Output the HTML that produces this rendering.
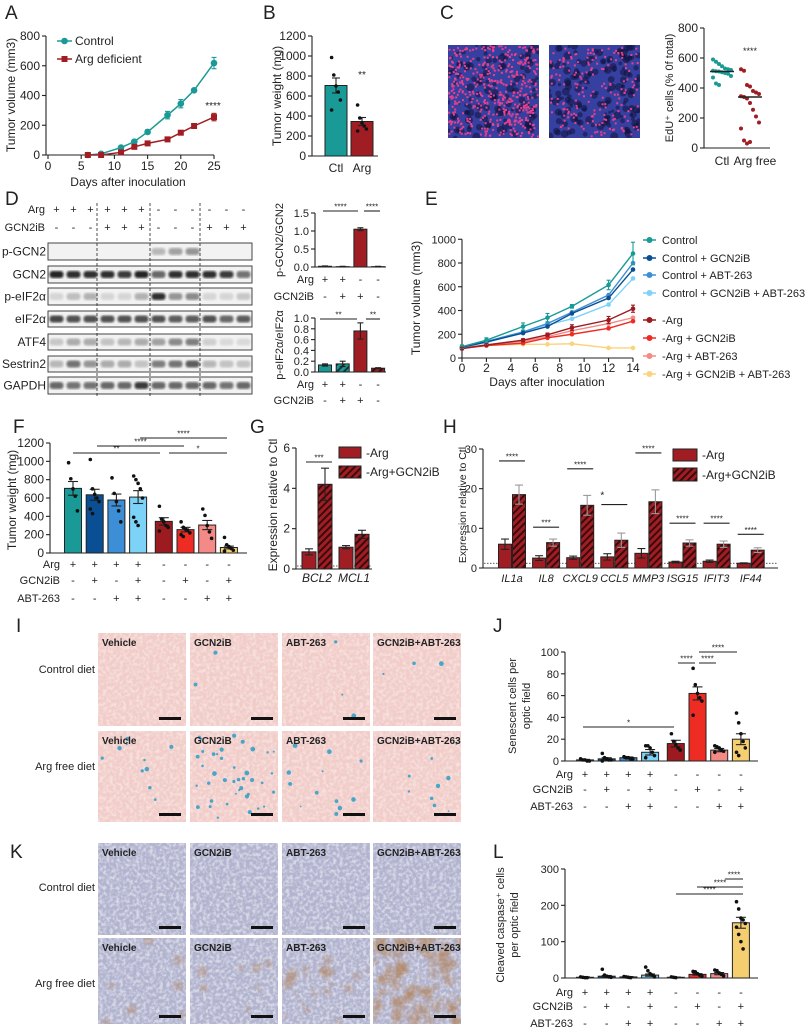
<!DOCTYPE html>
<html><head><meta charset="utf-8">
<style>
body{margin:0;background:#fff;}
svg{display:block;font-family:"Liberation Sans",sans-serif;}
</style></head>
<body>
<svg id="fig" width="810" height="1035" viewBox="0 0 810 1035">
<defs id="defs">
<pattern id="hatchRed" patternUnits="userSpaceOnUse" width="5" height="5" patternTransform="rotate(45)"><rect width="5" height="5" fill="#a01e23"/><rect width="2" height="5" fill="#3a0a0c"/></pattern>
<pattern id="hatchTeal" patternUnits="userSpaceOnUse" width="5" height="5" patternTransform="rotate(45)"><rect width="5" height="5" fill="#1a9a96"/><rect width="2" height="5" fill="#0a3a38"/></pattern>
<filter id="speck" x="0" y="0" width="100%" height="100%"><feTurbulence type="fractalNoise" baseFrequency="0.3" numOctaves="2" seed="4"/><feColorMatrix type="matrix" values="0 0 0 0 1 0 0 0 0 1 0 0 0 0 1 3 0 0 0 -1.2"/></filter>
<filter id="blur1"><feGaussianBlur stdDeviation="1"/></filter>
<filter id="blur2"><feGaussianBlur stdDeviation="2"/></filter>
</defs>
</svg>
<script>
// ---------- DATA ----------
const aDays=[6,8,11,13,15,18,20,22,25];
const aControl=[0,8,50,90,155,268,345,435,618];
const aControlErr=[2,4,5,8,14,25,28,12,38];
const aArg=[0,0,18,55,78,105,150,195,255];
const aArgErr=[2,2,5,8,6,8,10,12,25];
const aYTicks=[0,200,400,600,800];
const aXTicks=[0,5,10,15,20,25];

const bCats=['Ctl','Arg'];
const bValues=[705,345];
const bErr=[75,40];
const bDotsCtl=[985,810,700,640,560,460];
const bDotsArg=[510,380,330,300,270,250];
const bYTicks=[0,200,400,600,800,1000,1200];

const cCats=['Ctl','Arg free'];
const cCtl=[590,575,560,545,530,525,520,515,512,510,505,500,495,480,470,430,420];
const cArg=[525,515,420,410,380,370,360,345,340,330,300,255,210,170,130,50,30,40];
const cMeans=[510,340];
const cYTicks=[0,200,400,600,800];

const dRows=['p-GCN2','GCN2','p-eIF2\u03b1','eIF2\u03b1','ATF4','Sestrin2','GAPDH'];
const dBandPGCN2=[0,0,0,0,0,0,0.25,0.35,0.4,0,0,0];
const dBandGCN2=[0.9,0.85,0.85,0.85,0.8,0.9,0.6,0.85,0.85,0.85,0.8,0.55];
const dBandPEIF=[0.12,0.22,0.28,0.12,0.12,0.28,0.85,0.4,0.45,0.12,0.12,0.18];
const dBandEIF=[0.75,0.7,0.7,0.7,0.7,0.7,0.7,0.65,0.65,0.7,0.6,0.65];
const dBandATF4=[0.18,0.3,0.3,0.2,0.25,0.3,0.35,0.45,0.5,0.15,0.1,0.1];
const dBandSESN=[0.25,0.55,0.4,0.3,0.3,0.2,0.5,0.55,0.65,0.25,0.2,0.2];
const dBandGAPDH=[0.6,0.55,0.55,0.6,0.6,0.8,0.6,0.6,0.6,0.6,0.55,0.6];
const dArgSigns=['+','+','+','+','+','+','-','-','-','-','-','-'];
const dGcnSigns=['-','-','-','+','+','+','-','-','-','+','+','+'];
const dTopValues=[0.02,0.01,1.05,0.01];
const dTopErr=[0.01,0.01,0.04,0.01];
const dBotValues=[0.13,0.15,0.76,0.07];
const dBotErr=[0.02,0.05,0.15,0.01];
const dChartArg=['+','+','-','-'];
const dChartGcn=['-','+','+','-'];

const eDays=[0,2,5,7,9,12,14];
const eControl=[95,150,265,340,435,615,880];
const eCtlGcn=[90,135,210,265,375,505,745];
const eCtlAbt=[92,140,220,290,385,530,800];
const eCtlBoth=[90,130,215,280,330,450,670];
const eArg=[80,110,150,195,255,320,415];
const eArgGcn=[80,105,125,170,200,250,310];
const eArgAbt=[85,110,140,180,230,290,340];
const eArgBoth=[85,105,115,115,120,85,85];
const eControlErr=[15,20,30,35,15,40,95];
const eArgErr=[10,10,12,15,25,30,30];
const eLabels=['Control','Control + GCN2iB','Control + ABT-263','Control + GCN2iB + ABT-263','-Arg','-Arg + GCN2iB','-Arg + ABT-263','-Arg + GCN2iB + ABT-263'];
const eYTicks=[0,200,400,600,800,1000];
const eXTicks=[0,2,4,6,8,10,12,14];

const fValues=[705,635,578,610,345,255,305,60];
const fErr=[75,60,65,70,40,25,50,15];
const fDots=[[985,810,700,620,460],[1020,700,640,600,560,480,430],[820,650,560,460,340],[840,800,760,700,600,390,340,300],[510,370,340,300,280,240],[340,280,260,250,220,200,180],[480,410,300,230,160],[170,90,70,50,30,20]];
const fYTicks=[0,200,400,600,800,1000,1200];
const gArgSigns=['+','+','+','+','-','-','-','-'];
const gGcnSigns=['-','+','-','+','-','+','-','+'];
const gAbtSigns=['-','-','+','+','-','-','+','+'];

const gGenes=['BCL2','MCL1'];
const gArg=[0.85,1.08];
const gArgErr=[0.15,0.08];
const gGcn=[4.2,1.72];
const gGcnErr=[0.8,0.2];
const gRef=0.15;
const gYTicks=[0,2,4,6];

const hGenes=['IL1a','IL8','CXCL9','CCL5','MMP3','ISG15','IFIT3','IF44'];
const hArg=[6,2.5,2.6,2.8,3.7,1.5,1.7,1.2];
const hArgErr=[1.3,0.6,0.4,0.8,1.2,0.2,0.3,0.1];
const hGcn=[18.5,6.4,15.8,7,16.7,6.3,6,4.5];
const hGcnErr=[2.4,0.9,2.5,1.8,3,0.8,0.8,0.6];
const hSigLevel=[27,10.3,25,16,29,11.3,11.3,8.5];
const hSigText=['****','***','****','*','****','****','****','****'];
const hRef=1.2;
const hYTicks=[0,10,20,30];

const jValues=[1,2,3,8,16,62,10,20];
const jErr=[0.5,1,0.7,2.5,3,6,1.5,5];
const jDots=[[2,1,1,0,0],[7,3,2,1,1,0],[4,3,3,2,2],[14,14,12,8,5,3],[25,18,15,12,10],[85,70,62,58,55,42],[14,13,12,10,9,8],[44,35,25,18,12,8,5]];
const jYTicks=[0,20,40,60,80,100];
const lValues=[2,5,3,8,2,10,12,152];
const lErr=[1,2,1,3,0.5,2,3,15];
const lDots=[[3,2,1,1],[24,8,5,3,2],[4,3,2,1],[30,20,12,8,3],[3,2,1],[18,17,12,8,5],[22,20,14,10,6],[210,190,165,160,150,140,120,100,80]];
const lYTicks=[0,100,200,300];

const tissueCols=['Vehicle','GCN2iB','ABT-263','GCN2iB+ABT-263'];
const iBlueCounts=[[0,2,3,3],[10,40,12,9]];

// ---------- HELPERS ----------
const NS='http://www.w3.org/2000/svg';
const svg=document.getElementById('fig');
const defs=document.getElementById('defs');
const COLORS=['#1a9a96','#0a4f94','#3c8fd6','#7dd3f7','#9b1b20','#ee2c24','#f48a85','#f5cf6f'];
function el(tag,a,name,parent){
  const e=document.createElementNS(NS,tag);
  for(const k in a) e.setAttribute(k,a[k]);
  
  
  (parent||svg).appendChild(e);
  return e;
}
let clipN=0;
function clipGroup(x,y,w,h,name){
  const id='clip'+(clipN++);
  const cp=el('clipPath',{id:id},name+'-clip',defs);
  el('rect',{x:x,y:y,width:w,height:h},name+'-clip-rect',cp);
  return el('g',{'clip-path':'url(#'+id+')'},name);
}
function T(x,y,s,name,o){
  o=o||{};
  const a={x:x,y:y,'font-size':o.fs||11,'text-anchor':o.a||'middle',fill:o.fill||'#222'};
  if(o.fw) a['font-weight']=o.fw;
  if(o.fi) a['font-style']='italic';
  if(o.rot) a.transform='rotate(-90 '+x+' '+y+')';
  const e=el('text',a,name,o.p);
  e.textContent=s;
  return e;
}
function L(x1,y1,x2,y2,name,o){
  o=o||{};
  const a={x1:x1,y1:y1,x2:x2,y2:y2,stroke:o.c||'#222','stroke-width':o.w||1.1};
  if(o.dash) a['stroke-dasharray']=o.dash;
  return el('line',a,name);
}
function lin(d0,d1,r0,r1){return v=>r0+(v-d0)/(d1-d0)*(r1-r0);}
function yAxis(x,sy,ticks,name,fs,fmt){
  L(x,sy(ticks[0]),x,sy(ticks[ticks.length-1]),name+'-y-axis');
  ticks.forEach(t=>{
    L(x-4,sy(t),x,sy(t),name+'-y-tick');
    T(x-6,sy(t)+4,fmt?fmt(t):String(t),name+'-y-tick-label',{a:'end',fs:fs||11});
  });
}
function err(x,v,e,sy,name,c,w){
  w=w||4;
  L(x,sy(v+e),x,sy(v-e>0?v-e:0),name,{c:c||'#222'});
  L(x-w,sy(v+e),x+w,sy(v+e),name,{c:c||'#222'});
  L(x-w,sy(v-e),x+w,sy(v-e),name,{c:c||'#222'});
}
function bar(cx,w,v,sy,fill,name){
  return el('rect',{x:cx-w/2,y:sy(v),width:w,height:sy(0)-sy(v),fill:fill,stroke:'#222','stroke-width':1},name);
}
function dots(cx,vals,sy,name,c,r){
  vals.forEach((v,i)=>{
    const off=((i%5)-2)*2.2;
    el('circle',{cx:cx+off,cy:sy(v),r:r||1.8,fill:c||'#111'},name);
  });
}
function sig(x1,x2,y,s,name){
  L(x1,y,x2,y,name+'-line');
  T((x1+x2)/2,y-1.5,s,name+'-stars',{fs:8});
}
function signRows(centers,rows,ys,labels,labelX,name){
  rows.forEach((r,ri)=>{
    T(labelX,ys[ri],labels[ri],name+'-row-label',{a:'end',fs:11});
    r.forEach((s,i)=>T(centers[i],ys[ri],s,name+'-sign',{fs:11}));
  });
}
let seed=7;
function rnd(){seed=(seed*16807)%2147483647;return seed/2147483647;}

// ---------- PANEL LETTERS ----------
[['A',5,19],['B',263,19],['C',440,19],['D',5,205],['E',425,205],['F',13,433],['G',250,433],['H',443,433],['I',16,632],['J',493,632],['K',10,858],['L',493,858]].forEach(p=>T(p[1],p[2],p[0],'panel-label-'+p[0].toLowerCase(),{a:'start',fs:19}));

// ---------- A ----------
(function(){
  const sx=lin(0,25,48,214), sy=lin(0,800,155,36);
  yAxis(46,sy,aYTicks,'a',12);
  L(46,155,214,155,'a-x-axis');
  aXTicks.forEach(t=>{L(sx(t),155,sx(t),159,'a-x-tick');T(sx(t),170,String(t),'a-x-tick-label',{fs:12});});
  T(128,186,'Days after inoculation','a-x-axis-title',{fs:12});
  T(15,95,'Tumor volume (mm3)','a-y-axis-title',{fs:12,rot:1});
  el('polyline',{points:aDays.map((d,i)=>sx(d)+','+sy(aControl[i])).join(' '),fill:'none',stroke:'#1a9a96','stroke-width':1.5},'a-control-line');
  el('polyline',{points:aDays.map((d,i)=>sx(d)+','+sy(aArg[i])).join(' '),fill:'none',stroke:'#a01e23','stroke-width':1.5},'a-arg-line');
  aDays.forEach((d,i)=>{
    err(sx(d),aControl[i],aControlErr[i],sy,'a-control-error','#1a9a96',2.5);
    el('circle',{cx:sx(d),cy:sy(aControl[i]),r:3.3,fill:'#1a9a96'},'a-control-point');
    err(sx(d),aArg[i],aArgErr[i],sy,'a-arg-error','#a01e23',2.5);
    el('rect',{x:sx(d)-3,y:sy(aArg[i])-3,width:6,height:6,fill:'#a01e23'},'a-arg-point');
  });
  T(213,109,'****','a-significance',{fs:10});
  L(57,41,72,41,'a-legend-control-line',{c:'#1a9a96',w:1.5});
  el('circle',{cx:64.5,cy:41,r:3.3,fill:'#1a9a96'},'a-legend-control-marker');
  T(75,45,'Control','a-legend-control-label',{a:'start',fs:12});
  L(57,59,72,59,'a-legend-arg-line',{c:'#a01e23',w:1.5});
  el('rect',{x:61.5,y:56,width:6,height:6,fill:'#a01e23'},'a-legend-arg-marker');
  T(75,63,'Arg deficient','a-legend-arg-label',{a:'start',fs:12});
})();

// ---------- B ----------
(function(){
  const sy=lin(0,1200,156,36);
  yAxis(312,sy,bYTicks,'b',12);
  L(312,156,378,156,'b-x-axis');
  const cx=[336,362], fills=['#1a9a96','#a01e23'];
  bCats.forEach((c,i)=>{
    bar(cx[i],22,bValues[i],sy,fills[i],'b-bar-'+c.toLowerCase());
    err(cx[i],bValues[i],bErr[i],sy,'b-error');
    T(cx[i],172,c,'b-x-tick-label',{fs:12});
  });
  dots(cx[0],bDotsCtl,sy,'b-dot');
  dots(cx[1],bDotsArg,sy,'b-dot');
  T(362,78,'**','b-significance',{fs:10});
  T(281,96,'Tumor weight (mg)','b-y-axis-title',{fs:12,rot:1});
})();

// ---------- C ----------
(function(){
  function img(x,y,w,h,n,nd,name){
    const g=clipGroup(x,y,w,h,name);
    el('rect',{x:x,y:y,width:w,height:h,fill:'#3640a0'},name+'-bg',g);
    for(let i=0;i<nd;i++) el('circle',{cx:x+rnd()*w,cy:y+rnd()*h,r:1.5+rnd()*2.5,fill:'#10133d',opacity:0.55},name+'-dark',g);
    for(let i=0;i<n;i++) el('rect',{x:x+rnd()*(w-2),y:y+rnd()*(h-2),width:2,height:2,fill:'#e8408c'},name+'-edu-dot',g);
  }
  img(448,45,91,93,480,120,'c-image-ctl');
  img(549,45,91,93,180,160,'c-image-arg-free');
  const sy=lin(0,800,148,28);
  yAxis(704,sy,cYTicks,'c',12);
  L(704,148,770,148,'c-x-axis');
  const cx=[722,750];
  cCtl.forEach((v,i)=>el('circle',{cx:cx[0]+((i%7)-3)*3,cy:sy(v),r:2,fill:'#1a9a96'},'c-ctl-point'));
  cArg.forEach((v,i)=>el('circle',{cx:cx[1]+((i%7)-3)*3,cy:sy(v),r:2,fill:'#a01e23'},'c-arg-point'));
  cMeans.forEach((m,i)=>L(cx[i]-12,sy(m),cx[i]+12,sy(m),'c-mean-line',{w:1.6}));
  cCats.forEach((c,i)=>T(cx[i]+(i?5:0),165,c,'c-x-tick-label',{fs:12}));
  T(750,54,'****','c-significance',{fs:9});
  T(673,88,'EdU\u207a cells (% 0f total)','c-y-axis-title',{fs:11,rot:1});
})();

// ---------- D blots ----------
(function(){
  const bands=[dBandPGCN2,dBandGCN2,dBandPEIF,dBandEIF,dBandATF4,dBandSESN,dBandGAPDH];
  const ys=[[243,260],[266,283],[288,305],[311,327],[334,350],[356,372],[377,394]];
  const lane=i=>56.5+i*17;
  dArgSigns.forEach((s,i)=>T(lane(i),213,s,'d-arg-sign',{fs:11}));
  dGcnSigns.forEach((s,i)=>T(lane(i),231,s,'d-gcn2ib-sign',{fs:11}));
  T(45,213,'Arg','d-arg-label',{a:'end',fs:11});
  T(45,231,'GCN2iB','d-gcn2ib-label',{a:'end',fs:11});
  dRows.forEach((r,ri)=>{
    const [y0,y1]=ys[ri];
    el('rect',{x:48,y:y0,width:204,height:y1-y0,fill:'#f2f2f2',stroke:'#444','stroke-width':1},'d-blot-'+r.toLowerCase());
    bands[ri].forEach((v,i)=>{
      if(v>0) el('rect',{x:lane(i)-7,y:(y0+y1)/2-3.5,width:14,height:7,rx:3,fill:'#111',opacity:v,filter:'url(#blur1)'},'d-band');
    });
    T(46,(y0+y1)/2+4,r,'d-row-label',{a:'end',fs:12});
  });
  [97,150,200].forEach(x=>L(x,203,x,398,'d-lane-separator',{dash:'3,2',w:0.8}));
})();

// ---------- D charts ----------
(function(){
  const cx=i=>325+i*17.7;
  const fills=['#1a9a96','url(#hatchTeal)','#a01e23','url(#hatchRed)'];
  function chart(vals,errs,sy,ticks,name){
    yAxis(315,sy,ticks,name,11,t=>t.toFixed(1));
    L(315,sy(0),386,sy(0),name+'-x-axis');
    vals.forEach((v,i)=>{bar(cx(i),13,v,sy,fills[i],name+'-bar');err(cx(i),v,errs[i],sy,name+'-error',null,3);});
  }
  const syT=lin(0,1.5,267,213);
  chart(dTopValues,dTopErr,syT,[0,0.5,1.0,1.5],'d-top');
  signRows([325,342.7,360.4,378.1],[dChartArg,dChartGcn],[283,300],['Arg','GCN2iB'],314,'d-top');
  sig(323,358,211,'****','d-top-sig');
  sig(364,380,211,'****','d-top-sig');
  T(283,240,'p-GCN2/GCN2','d-top-y-title',{fs:11,rot:1});
  const syB=lin(0,1.0,372,318);
  chart(dBotValues,dBotErr,syB,[0,0.2,0.4,0.6,0.8,1.0],'d-bottom');
  signRows([325,342.7,360.4,378.1],[dChartArg,dChartGcn],[388,404],['Arg','GCN2iB'],314,'d-bottom');
  sig(320,357,319,'**','d-bottom-sig');
  sig(366,380,319,'**','d-bottom-sig');
  T(283,345,'p-eIF2\u03b1/eIF2\u03b1','d-bottom-y-title',{fs:11,rot:1});
})();

// ---------- E ----------
(function(){
  const sx=lin(0,14,462,633), sy=lin(0,800,358,263);
  yAxis(462,sy,eYTicks,'e',11);
  L(462,358,633,358,'e-x-axis');
  eXTicks.forEach(t=>{L(sx(t),358,sx(t),362,'e-x-tick');T(sx(t),372,String(t),'e-x-tick-label',{fs:12});});
  T(547,386,'Days after inoculation','e-x-axis-title',{fs:12});
  T(420,298,'Tumor volume (mm3)','e-y-axis-title',{fs:12,rot:1});
  const series=[eControl,eCtlGcn,eCtlAbt,eCtlBoth,eArg,eArgGcn,eArgAbt,eArgBoth];
  const ec=['#1a9a96','#0a4f94','#3c8fd6','#7dd3f7','#9b1b20','#ee2c24','#f48a85','#fbd37a'];
  const order=[6,7,5,4,3,2,1,0];
  order.forEach(k=>{
    const s=series[k];
    el('polyline',{points:eDays.map((d,i)=>sx(d)+','+sy(s[i])).join(' '),fill:'none',stroke:ec[k],'stroke-width':1.4},'e-line-'+k);
    eDays.forEach((d,i)=>el('circle',{cx:sx(d),cy:sy(s[i]),r:2.3,fill:ec[k]},'e-point'));
  });
  eDays.forEach((d,i)=>{err(sx(d),eControl[i],eControlErr[i],sy,'e-control-error','#1a9a96',2);err(sx(d),eArg[i],eArgErr[i],sy,'e-arg-error','#9b1b20',2);});
  const ly=[240,258,275,293,320,338,356,374];
  eLabels.forEach((lb,i)=>{
    L(643,ly[i],656,ly[i],'e-legend-line',{c:ec[i],w:1.5});
    el('circle',{cx:649.5,cy:ly[i],r:3,fill:ec[i]},'e-legend-marker');
    T(662,ly[i]+4,lb,'e-legend-label',{a:'start',fs:11});
  });
})();

// ---------- F ----------
const f8=i=>73+i*21.7+(i>=4?4:0);
(function(){
  const sy=lin(0,1200,553,443);
  yAxis(50,sy,fYTicks,'f',12);
  L(50,553,247,553,'f-x-axis');
  fValues.forEach((v,i)=>{bar(f8(i),17,v,sy,COLORS[i],'f-bar');err(f8(i),fValues[i],fErr[i],sy,'f-error',null,5);dots(f8(i),fDots[i],sy,'f-dot');});
  const centers=fValues.map((v,i)=>f8(i));
  signRows(centers,[gArgSigns,gGcnSigns,gAbtSigns],[568,584,602],['Arg','GCN2iB','ABT-263'],60,'f');
  sig(140,227,438,'****','f-sig');
  sig(97,184,446,'****','f-sig');
  sig(73,160,453,'**','f-sig');
  sig(169,227,453,'*','f-sig');
  T(16,500,'Tumor weight (mg)','f-y-axis-title',{fs:12,rot:1});
})();

// ---------- G ----------
(function(){
  const sy=lin(0,6,569,448);
  yAxis(296,sy,gYTicks,'g',12);
  L(296,569,372,569,'g-x-axis');
  L(297,sy(gRef),372,sy(gRef),'g-reference-line',{dash:'1.5,1.5',w:0.8});
  gGenes.forEach((g,k)=>{
    const c=309+k*37;
    bar(c,14,gArg[k],sy,'#a01e23','g-bar-arg');err(c,gArg[k],gArgErr[k],sy,'g-error',null,4);
    bar(c+16,14,gGcn[k],sy,'url(#hatchRed)','g-bar-arg-gcn2ib');err(c+16,gGcn[k],gGcnErr[k],sy,'g-error',null,4);
    T(c+8,582,g,'g-x-tick-label',{fs:12,fi:1});
  });
  sig(306,332,462,'***','g-sig');
  T(277,505,'Expression relative to Ctl','g-y-axis-title',{fs:12,rot:1});
  el('rect',{x:339,y:447,width:22,height:11,fill:'#a01e23',stroke:'#222'},'g-legend-arg-swatch');
  T(366,457,'-Arg','g-legend-arg-label',{a:'start',fs:12});
  el('rect',{x:339,y:466,width:22,height:12,fill:'url(#hatchRed)',stroke:'#222'},'g-legend-gcn-swatch');
  T(366,476,'-Arg+GCN2iB','g-legend-gcn-label',{a:'start',fs:12});
})();

// ---------- H ----------
(function(){
  const sy=lin(0,30,568,449);
  yAxis(483,sy,hYTicks,'h',11);
  L(483,568,778,568,'h-x-axis');
  L(484,sy(hRef),778,sy(hRef),'h-reference-line',{dash:'1.5,1.5',w:0.8});
  hGenes.forEach((g,k)=>{
    const c=512+k*34.1;
    bar(c-7,13,hArg[k],sy,'#a01e23','h-bar-arg');err(c-7,hArg[k],hArgErr[k],sy,'h-error',null,4);
    bar(c+7,13,hGcn[k],sy,'url(#hatchRed)','h-bar-arg-gcn2ib');err(c+7,hGcn[k],hGcnErr[k],sy,'h-error','#999',4);
    T(c,582,g,'h-x-tick-label',{fs:11,fi:1});
    L(c-13,sy(hSigLevel[k]),c+13,sy(hSigLevel[k]),'h-sig-line');
    if(k===3) T(c-12,sy(hSigLevel[k])-6,'*','h-sig-stars',{fs:10});
    else T(c,sy(hSigLevel[k])-1.5,hSigText[k],'h-sig-stars',{fs:8});
  });
  T(466,505,'Expression relative to Ctl','h-y-axis-title',{fs:10.5,rot:1});
  el('rect',{x:673,y:449,width:24,height:12,fill:'#a01e23',stroke:'#222'},'h-legend-arg-swatch');
  T(702,459,'-Arg','h-legend-arg-label',{a:'start',fs:12});
  el('rect',{x:673,y:468,width:24,height:13,fill:'url(#hatchRed)',stroke:'#222'},'h-legend-gcn-swatch');
  T(702,479,'-Arg+GCN2iB','h-legend-gcn-label',{a:'start',fs:12});
})();

// ---------- I & K tissue images ----------
(function(){
  const xs=[98,190,282,373], w=88;
  function tissue(x,y,h,base,kind,blue,brown,name){
    const g=clipGroup(x,y,w,h,name);
    el('rect',{x:x,y:y,width:w,height:h,fill:base},name+'-bg',g);
    el('rect',{x:x,y:y,width:w,height:h,filter:'url(#speck)',opacity:kind==='k'?0.5:0.4},name+'-texture',g);
    for(let i=0;i<brown;i++) el('circle',{cx:x+rnd()*w,cy:y+rnd()*h,r:2+rnd()*3.5,fill:'#b07a48',opacity:0.35,filter:'url(#blur2)'},name+'-stain',g);
    for(let i=0;i<blue;i++) el('circle',{cx:x+4+rnd()*(w-8),cy:y+4+rnd()*(h-8),r:0.8+rnd()*1.6,fill:'#2a9cc8',opacity:0.85},name+'-sa-bgal-cell',g);
    el('rect',{x:x+w-27,y:y+h-9,width:22,height:3,fill:'#111'},name+'-scale-bar',g);
    return g;
  }
  [[633,93,'#f1ccc8','i',673,770,731],[843,92,'#b1b3cf','k',891,987,938]].forEach(cfg=>{
    const [y1,h,base,kind,ly1,ly2,y2]=cfg;
    T(95,ly1,'Control diet',kind+'-row-label-control',{a:'end',fs:11});
    T(95,ly2,'Arg free diet',kind+'-row-label-arg-free',{a:'end',fs:11});
    xs.forEach((x,c)=>{
      tissue(x,y1,h,base,kind,kind==='i'?iBlueCounts[0][c]:0,0,kind+'-image-control-'+c);
      T(x+4,y1+13,tissueCols[c],kind+'-image-title',{a:'start',fs:10,fw:'bold'});
      tissue(x,y2,kind==='i'?91:86,base,kind,kind==='i'?iBlueCounts[1][c]:0,kind==='k'?(c===3?140:(c===2?25:8)):0,kind+'-image-arg-free-'+c);
      T(x+4,y2+13,tissueCols[c],kind+'-image-title',{a:'start',fs:10,fw:'bold'});
    });
  });
})();

// ---------- J & L ----------
function chart8(vals,errs,dotsArr,sy,ticks,name,rowYs){
  yAxis(565,sy,ticks,name,11);
  L(565,sy(0),758,sy(0),name+'-x-axis');
  const cs=vals.map((v,i)=>585+i*21.7+(i>=4?4:0));
  vals.forEach((v,i)=>{bar(cs[i],17,v,sy,COLORS[i],name+'-bar');err(cs[i],v,errs[i],sy,name+'-error',null,5);dots(cs[i],dotsArr[i],sy,name+'-dot');});
  signRows(cs,[gArgSigns,gGcnSigns,gAbtSigns],rowYs,['Arg','GCN2iB','ABT-263'],573,name);
}
(function(){
  const sy=lin(0,100,761,652);
  chart8(jValues,jErr,jDots,sy,jYTicks,'j',[778,793,810]);
  sig(583,674,727,'*','j-sig');
  sig(678,695,663,'****','j-sig');
  sig(699,716,663,'****','j-sig');
  sig(699,737,652,'****','j-sig');
  T(516,706,'Senescent cells per','j-y-axis-title',{fs:11,rot:1});
  T(530,706,'optic field','j-y-axis-title',{fs:11,rot:1});
})();
(function(){
  const sy=lin(0,300,978,869);
  chart8(lValues,lErr,lDots,sy,lYTicks,'l',[996,1010,1027]);
  sig(725,743,879,'****','l-sig');
  sig(697,743,887,'****','l-sig');
  sig(676,743,894,'****','l-sig');
  T(504,925,'Cleaved caspase\u207a cells','l-y-axis-title',{fs:11,rot:1});
  T(518,925,'per optic field','l-y-axis-title',{fs:11,rot:1});
})();
</script>
</body></html>
